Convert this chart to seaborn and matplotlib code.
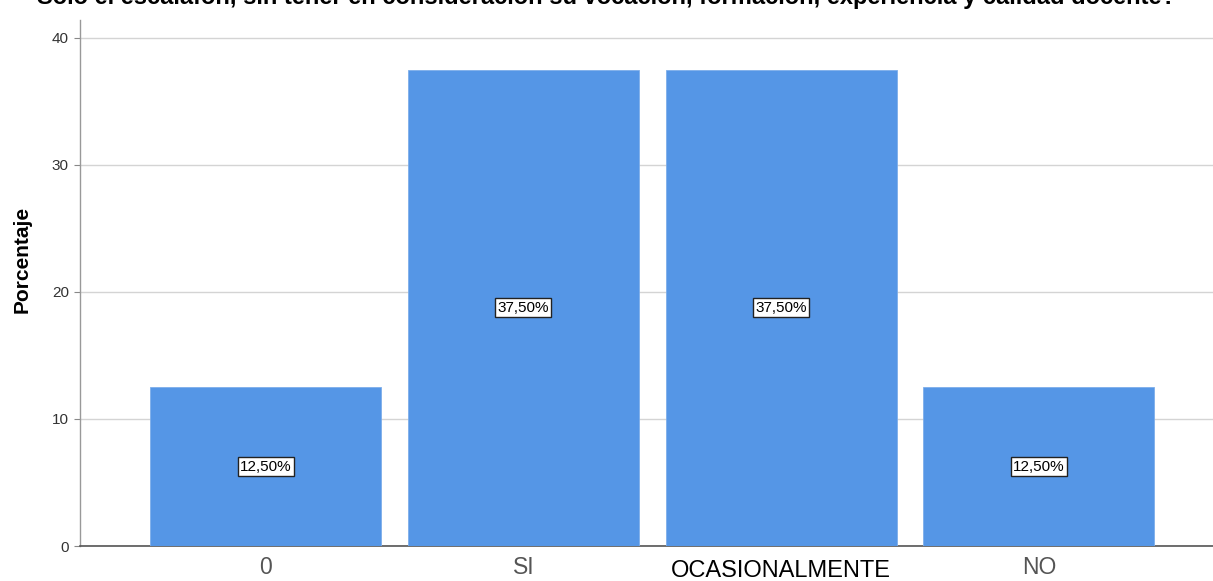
import matplotlib
matplotlib.use("Agg")
import matplotlib.pyplot as plt
import seaborn as sns
import pandas as pd

categories = ["0", "SI", "OCASIONALMENTE", "NO"]
percentages = [12.5, 37.5, 37.5, 12.5]
bar_labels = ["12,50%", "37,50%", "37,50%", "12,50%"]
yticks = [0, 10, 20, 30, 40]
title = "Solo el escalafón, sin tener en consideración su vocación, formación, experiencia y calidad docente?"

sns.set_theme(style="white")
plt.rcParams['font.family'] = ['Liberation Sans', 'DejaVu Sans']

df = pd.DataFrame({"cat": categories, "pct": percentages})

W, H = 1213, 581
fig = plt.figure(figsize=(W / 100, H / 100), dpi=100)
ax = fig.add_axes([80 / W, 1 - 546 / H, 1 - 80 / W, (546 - 20) / H])

sns.barplot(data=df, x="cat", y="pct", order=categories, color="#5596E6",
            saturation=1, width=0.896, ax=ax, edgecolor="#7DAEEA", linewidth=0.6,
            zorder=3)

ax.set_xlim(-0.72, 3.675)
ax.set_ylim(0, 41.4)
ax.set_yticks(yticks)
ax.set_yticklabels([str(v) for v in yticks], fontsize=11, color="#333333")
ax.yaxis.grid(True, color="#D4D4D4", linewidth=1.0, zorder=0)
ax.set_axisbelow(True)
ax.tick_params(axis="y", left=True, length=4, width=0.8, color="#888888", pad=4)
ax.tick_params(axis="x", bottom=False, pad=1)

ax.set_xlabel("")
ax.set_ylabel("Porcentaje", fontsize=15, fontweight="bold", color="black")
ax.yaxis.set_label_coords(-48 / (W - 80), 0.544)

ax.set_xticks(range(len(categories)))
ax.set_xticklabels(categories, fontsize=16.5)
for lab in ax.get_xticklabels():
    if lab.get_text() == "OCASIONALMENTE":
        lab.set_color("black")
        lab.set_fontsize(17)
        lab.set_y(-0.009)
    else:
        lab.set_color("#555555")

for s in ["top", "right"]:
    ax.spines[s].set_visible(False)
ax.spines["left"].set_color("#999999")
ax.spines["left"].set_linewidth(1.0)
ax.spines["bottom"].set_color("#555555")
ax.spines["bottom"].set_linewidth(1.2)

for i, (v, t) in enumerate(zip(percentages, bar_labels)):
    ax.text(i, v / 2, t, ha="center", va="center", fontsize=11, color="black", zorder=5,
            bbox=dict(boxstyle="square,pad=0.15", facecolor="white", edgecolor="#222222", linewidth=1.0))

fig.text(0.5, 1 - 4 / H, title, ha="center", va="baseline", fontsize=17,
         fontweight="bold", color="black")

fig.savefig("out.png", dpi=100)
